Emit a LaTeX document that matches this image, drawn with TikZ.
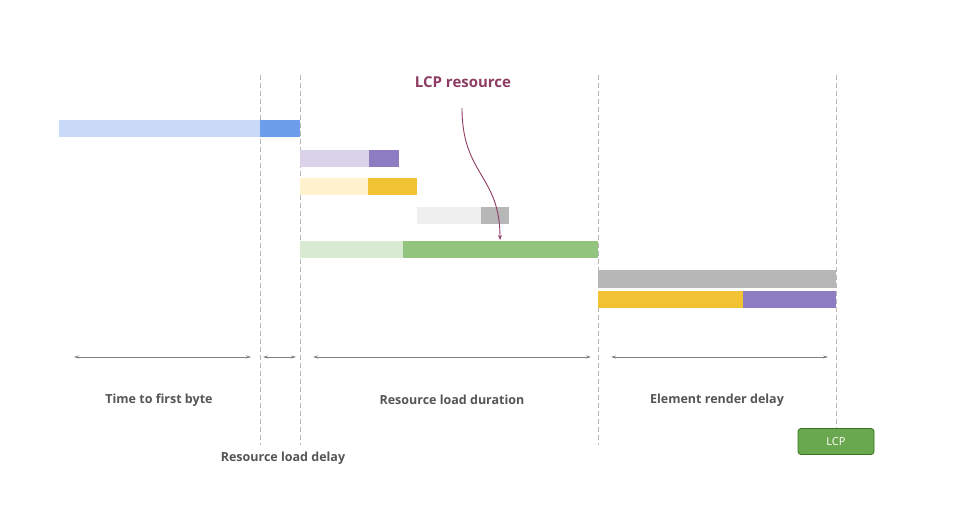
\documentclass[tikz,border=0pt]{standalone}
\usepackage{fontspec}
\setmainfont{Open Sans}
\usetikzlibrary{arrows.meta}
\definecolor{lblue}{HTML}{C9DAF8}\definecolor{dblue}{HTML}{6D9EEB}
\definecolor{lpur}{HTML}{D9D2E9}\definecolor{dpur}{HTML}{8E7CC3}
\definecolor{lyel}{HTML}{FFF2CC}\definecolor{dyel}{HTML}{F1C232}
\definecolor{lgray}{HTML}{EFEFEF}\definecolor{dgray}{HTML}{B7B7B7}
\definecolor{lgrn}{HTML}{D9EAD3}\definecolor{dgrn}{HTML}{93C47D}
\definecolor{txt}{HTML}{555555}\definecolor{plum}{HTML}{8E3C63}
\definecolor{boxg}{HTML}{6AA84F}\definecolor{boxb}{HTML}{38761D}
\begin{document}
\begin{tikzpicture}[x=1pt,y=-1pt,
  vl/.style={dashed,draw=dgray,line width=0.8pt,dash pattern=on 5pt off 3pt},
  dim/.style={{Stealth[length=5pt,width=3pt]}-{Stealth[length=5pt,width=3pt]},draw=gray,line width=0.7pt},
  lab/.style={font=\bfseries\fontsize{12.5}{14}\selectfont,text=txt}]
\useasboundingbox[fill=white] (0,0) rectangle (960,522);
\foreach \x in {260,300,598}{\draw[vl] (\x,75) -- (\x,445);}
\draw[vl] (836,75) -- (836,428);
% bars
\fill[lblue] (59,120) rectangle (260,137); \fill[dblue] (260,120) rectangle (300,137);
\fill[lpur] (300,150) rectangle (369,167); \fill[dpur] (369,150) rectangle (399,167);
\fill[lyel] (300,178) rectangle (368,195); \fill[dyel] (368,178) rectangle (417,195);
\fill[lgray] (417,207) rectangle (481,224); \fill[dgray] (481,207) rectangle (509,224);
\fill[lgrn] (300,241) rectangle (403,258); \fill[dgrn] (403,241) rectangle (598,258);
\fill[dgray] (598,270) rectangle (836,288);
\fill[dyel] (598,291) rectangle (743,308); \fill[dpur] (743,291) rectangle (836,308);
% dimension arrows
\coordinate (a1) at (74,357); \coordinate (a2) at (251,357);
\coordinate (b1) at (263,357); \coordinate (b2) at (296,357);
\coordinate (c1) at (313,357); \coordinate (c2) at (591,357);
\coordinate (d1) at (611,357); \coordinate (d2) at (828,357);
\draw[dim] (a1) -- (a2); \draw[dim] (b1) -- (b2); \draw[dim] (c1) -- (c2); \draw[dim] (d1) -- (d2);
\node[lab] (t1) at (159,400) {Time to first byte};
\node[lab] (t2) at (452,400) {Resource load duration};
\node[lab] (t3) at (717,400) {Element render delay};
\node[lab] (t4) at (283,458) {Resource load delay};
\node[font=\bfseries\fontsize{15}{18}\selectfont,text=plum] (lr) at (463,82) {LCP resource};
\coordinate (ls) at (462,108); \coordinate (le) at (500,240);
\draw[plum,line width=0.9pt,-{Stealth[length=5pt,width=4pt]}] (ls) .. controls (462,175) and (500,175) .. (le);
\node[fill=boxg,draw=boxb,line width=0.8pt,rounded corners=3pt,minimum width=76pt,minimum height=26pt,
  text=white,font=\fontsize{11}{13}\selectfont] (lcp) at (836,441.5) {LCP};
\end{tikzpicture}
\end{document}
